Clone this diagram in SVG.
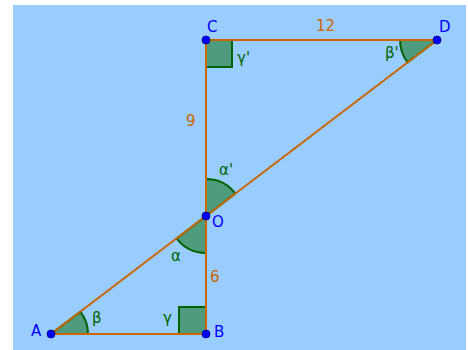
<svg xmlns="http://www.w3.org/2000/svg" width="468" height="350" viewBox="0 0 468 350">
<style>
.ang{fill:#4e9b7e;stroke:#006400;stroke-width:2}
.seg{stroke:#cc6600;stroke-width:2;fill:none;stroke-linecap:round}
.pt{fill:#0000ff;stroke:#00007a;stroke-width:0.8}
.pl{font-family:"DejaVu Sans",sans-serif;font-size:15px;fill:#0000ff}
.al{font-family:"DejaVu Sans",sans-serif;font-size:15px;fill:#006400}
.nl{font-family:"DejaVu Sans",sans-serif;font-size:15px;fill:#cc6600}
</style>
<rect x="13" y="5" width="453" height="345" fill="#99ccff"/>
<g id="angles">
<path class="ang" d="M51,334 L88,334 A37,37 0 0 0 80.4,311.6 Z"/>
<path class="ang" d="M437,40 L400,40 A37,37 0 0 0 407.6,62.4 Z"/>
<path class="ang" d="M206,216 L206,179 A37,37 0 0 1 235.4,193.6 Z"/>
<path class="ang" d="M206,216 L206,253 A37,37 0 0 1 176.6,238.4 Z"/>
<rect class="ang" x="179" y="307" width="27" height="27"/>
<rect class="ang" x="206" y="40" width="26" height="27"/>
<text class="al" x="92" y="323">β</text>
<text class="al" x="385" y="58">β'</text>
<text class="al" x="219" y="175">α'</text>
<text class="al" x="171" y="261">α</text>
<text class="al" x="163" y="323">γ</text>
<text class="al" x="237" y="63">γ'</text>
</g>
<g id="connectors">
<line class="seg" x1="51" y1="334" x2="206" y2="334"/>
<line class="seg" x1="206" y1="334" x2="206" y2="40"/>
<line class="seg" x1="206" y1="40" x2="437" y2="40"/>
<line class="seg" x1="437" y1="40" x2="51" y2="334"/>
<text class="nl" x="316" y="31">12</text>
<text class="nl" x="186" y="126">9</text>
<text class="nl" x="210" y="282">6</text>
</g>
<g id="A"><circle class="pt" cx="51" cy="334" r="4"/><text class="pl" x="31" y="336">A</text></g>
<g id="B"><circle class="pt" cx="206" cy="334" r="4"/><text class="pl" x="214" y="337">B</text></g>
<g id="C"><circle class="pt" cx="206" cy="40" r="4"/><text class="pl" x="207" y="32">C</text></g>
<g id="D"><circle class="pt" cx="437" cy="40" r="4"/><text class="pl" x="439" y="32">D</text></g>
<g id="O"><circle class="pt" cx="206" cy="216" r="4"/><text class="pl" x="212" y="227">O</text></g>
</svg>
